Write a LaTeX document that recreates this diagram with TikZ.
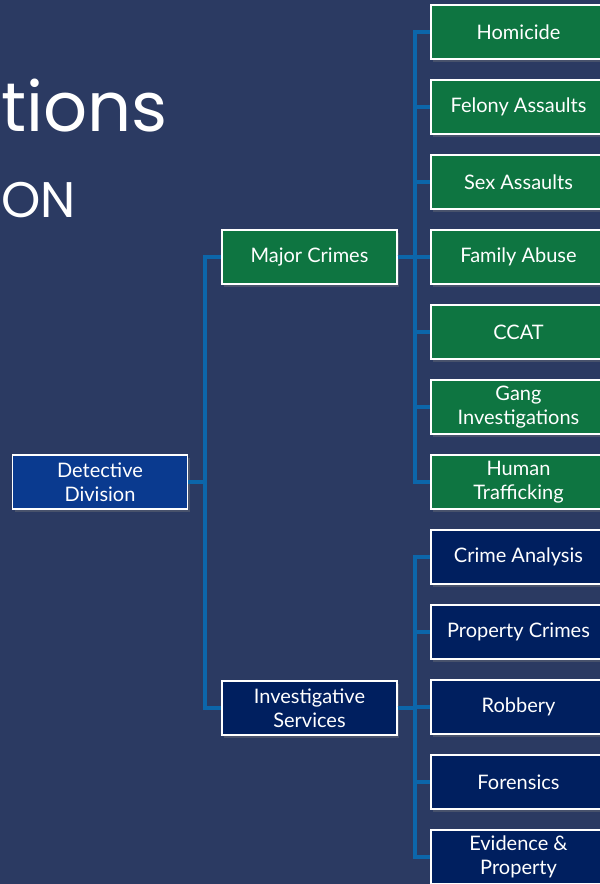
\documentclass[tikz,border=0pt]{standalone}
\usepackage{fontspec}
\setmainfont{Lato}
\newfontfamily\titlefont{Poppins}
\usetikzlibrary{shadows}
\definecolor{BgNavy}{HTML}{2B3A62}
\definecolor{OrgGreen}{HTML}{0E7541}
\definecolor{OrgBlue}{HTML}{0A3A8F}
\definecolor{OrgNavy}{HTML}{001F5F}
\definecolor{LinkBlue}{HTML}{0C66AA}
\tikzset{
    unit/.style = {draw=white, line width=1.6pt, rectangle,
        minimum height=54pt,
        minimum width=175pt, inner sep=0pt,
        text=white, align=center,
        font=\fontsize{20}{23.5}\selectfont,
        drop shadow={opacity=.35, shadow xshift=2pt, shadow yshift=-3pt}},
    crimes/.style = {unit, fill=OrgGreen},
    services/.style = {unit, fill=OrgNavy},
    head/.style = {unit, fill=OrgBlue},
    link/.style = {draw=LinkBlue, line width=4pt}
}
\begin{document}
\begin{tikzpicture}[x=1pt,y=-1pt]
    \fill[BgNavy] (0,0) rectangle (600,884);
    \useasboundingbox (0,0) rectangle (600,884);
    \clip (0,0) rectangle (600,884);
    % title remnants
    \node[anchor=base west, text=white, inner sep=0pt, font=\titlefont\fontsize{69}{80}\selectfont] (title) at (1,131) {tions};
    \node[anchor=base west, text=white, inner sep=0pt, font=\titlefont\fontsize{50}{60}\selectfont] (subtitle) at (1,217) {ON};
    % boxes
    \node[head] (det) at (100,482) {Detective\\Division};
    \node[crimes] (maj) at (309.5,257) {Major Crimes};
    \node[services] (inv) at (309.5,708) {Investigative\\Services};
    \node[crimes] (hom) at (518.5,32) {Homicide};
    \node[crimes] (fel) at (518.5,107) {Felony Assaults};
    \node[crimes] (sex) at (518.5,182) {Sex Assaults};
    \node[crimes] (fam) at (518.5,257) {Family Abuse};
    \node[crimes] (ccat) at (518.5,332) {CCAT};
    \node[crimes] (gang) at (518.5,407) {Gang\\Investigations};
    \node[crimes] (hum) at (518.5,482) {Human\\Trafficking};
    \node[services] (ana) at (518.5,557) {Crime Analysis};
    \node[services] (prop) at (518.5,632) {Property Crimes};
    \node[services] (rob) at (518.5,707) {Robbery};
    \node[services] (for) at (518.5,782) {Forensics};
    \node[services] (evi) at (518.5,857) {Evidence \&\\Property};
    % links
    \foreach \kid in {maj,inv}
        \draw[link] (det.east) -- +(17,0) |- (\kid.west);
    \foreach \kid in {hom,fel,sex,fam,ccat,gang,hum}
        \draw[link] (maj.east) -- +(17,0) |- (\kid.west);
    \foreach \kid in {ana,prop,rob,for,evi}
        \draw[link] (inv.east) -- +(17,0) |- (\kid.west);
\end{tikzpicture}
\end{document}
